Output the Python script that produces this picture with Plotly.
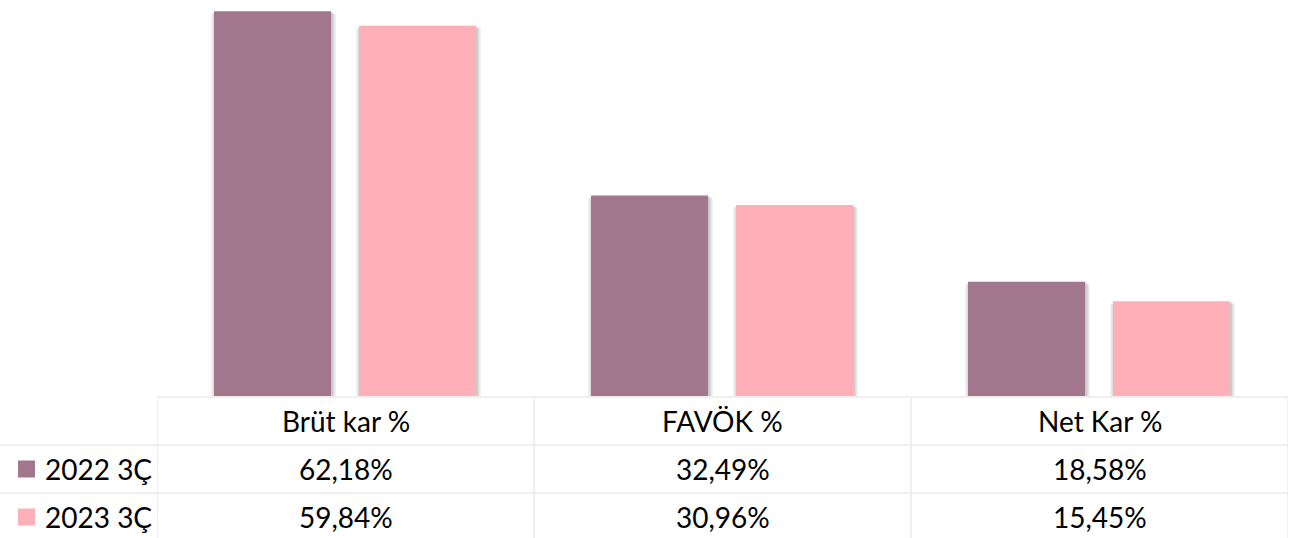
import plotly.graph_objects as go

categories = ["Brüt kar %", "FAVÖK %", "Net Kar %"]
series_names = ["2022 3Ç", "2023 3Ç"]
values_2022 = [62.18, 32.49, 18.58]
values_2023 = [59.84, 30.96, 15.45]
value_labels_2022 = ["62,18%", "32,49%", "18,58%"]
value_labels_2023 = ["59,84%", "30,96%", "15,45%"]

colors = ["#A2768C", "#FEAFB8"]
FONT = "Lato"
FS = 28
W, H = 1289, 538
ML, MR, MT, MB = 157, 1, 0, 141
PH = H - MT - MB
LINE = "#EFEFEF"
YMAX = 64.0

def py(p):
    # pixel y (from top) -> paper y
    return (H - MB - p) / PH

def px(p):
    return (p - ML) / (W - ML - MR)

CAT_PX = (W - ML - MR) / len(categories)   # pixels per category
U = 1.0 / CAT_PX                            # one pixel in category units
BAR_W = 117 * U
offsets = [-0.5 + 57 * U, -0.5 + 202 * U]   # left edge of each series' bar within a category
YPX = YMAX / PH                             # one pixel in value units

fig = go.Figure()
# soft shadows
for vals, off in zip([values_2022, values_2023], offsets):
    for grow, alpha in [(4, 0.05), (2.5, 0.07), (1.2, 0.09)]:
        fig.add_trace(go.Bar(x=categories, y=[v + grow * YPX * 0.3 for v in vals], base=-grow * YPX,
                             width=BAR_W + 2 * grow * U, offset=off - grow * U + 1.0 * U,
                             marker=dict(color=f"rgba(0,0,0,{alpha})", line=dict(width=0)),
                             showlegend=False, hoverinfo="skip"))
for name, vals, col, off in zip(series_names, [values_2022, values_2023], colors, offsets):
    fig.add_trace(go.Bar(x=categories, y=vals, name=name, width=BAR_W, offset=off,
                         marker=dict(color=col, line=dict(width=0)),
                         showlegend=False, hoverinfo="skip"))

shapes = []
# horizontal table lines
shapes.append(dict(type="line", xref="x", yref="paper", x0=-0.5, x1=2.5, y0=py(397), y1=py(397),
                   line=dict(color=LINE, width=2)))
for p in [445, 493]:
    shapes.append(dict(type="line", xref="paper", yref="paper", x0=px(0), x1=1, y0=py(p), y1=py(p),
                       line=dict(color=LINE, width=2)))
# vertical lines
for xv in [-0.5, 0.5, 1.5, 2.5]:
    shapes.append(dict(type="line", xref="x", yref="paper", x0=xv, x1=xv, y0=py(397), y1=py(540),
                       line=dict(color=LINE, width=2)))

annotations = []
for i, c in enumerate(categories):
    annotations.append(dict(x=c, xref="x", y=py(421), yref="paper", text=c, showarrow=False,
                            yanchor="middle", xanchor="center", font=dict(family=FONT, size=FS, color="#000")))
    annotations.append(dict(x=c, xref="x", y=py(469), yref="paper", text=value_labels_2022[i], showarrow=False,
                            yanchor="middle", xanchor="center", font=dict(family=FONT, size=FS, color="#000")))
    annotations.append(dict(x=c, xref="x", y=py(517), yref="paper", text=value_labels_2023[i], showarrow=False,
                            yanchor="middle", xanchor="center", font=dict(family=FONT, size=FS, color="#000")))

for name, col, cy in zip(series_names, colors, [469, 517]):
    shapes.append(dict(type="rect", xref="paper", yref="paper", x0=px(18), x1=px(35), y0=py(cy + 8.5), y1=py(cy - 8.5),
                       fillcolor=col, line=dict(width=0)))
    annotations.append(dict(x=px(43), xref="paper", y=py(cy), yref="paper", text=name, showarrow=False,
                            xanchor="left", yanchor="middle", font=dict(family=FONT, size=FS, color="#000")))

fig.update_layout(
    width=W, height=H,
    margin=dict(l=ML, r=MR, t=MT, b=MB),
    barmode="overlay",
    plot_bgcolor="white", paper_bgcolor="white",
    xaxis=dict(showticklabels=False, showgrid=False, zeroline=False, showline=False, ticks="",
               range=[-0.5, 2.5]),
    yaxis=dict(range=[0, YMAX], visible=False),
    shapes=shapes, annotations=annotations,
)
fig.write_html("out.html", config={"displayModeBar": False},
               post_script="document.body.style.margin='0';document.body.style.overflow='hidden';")
